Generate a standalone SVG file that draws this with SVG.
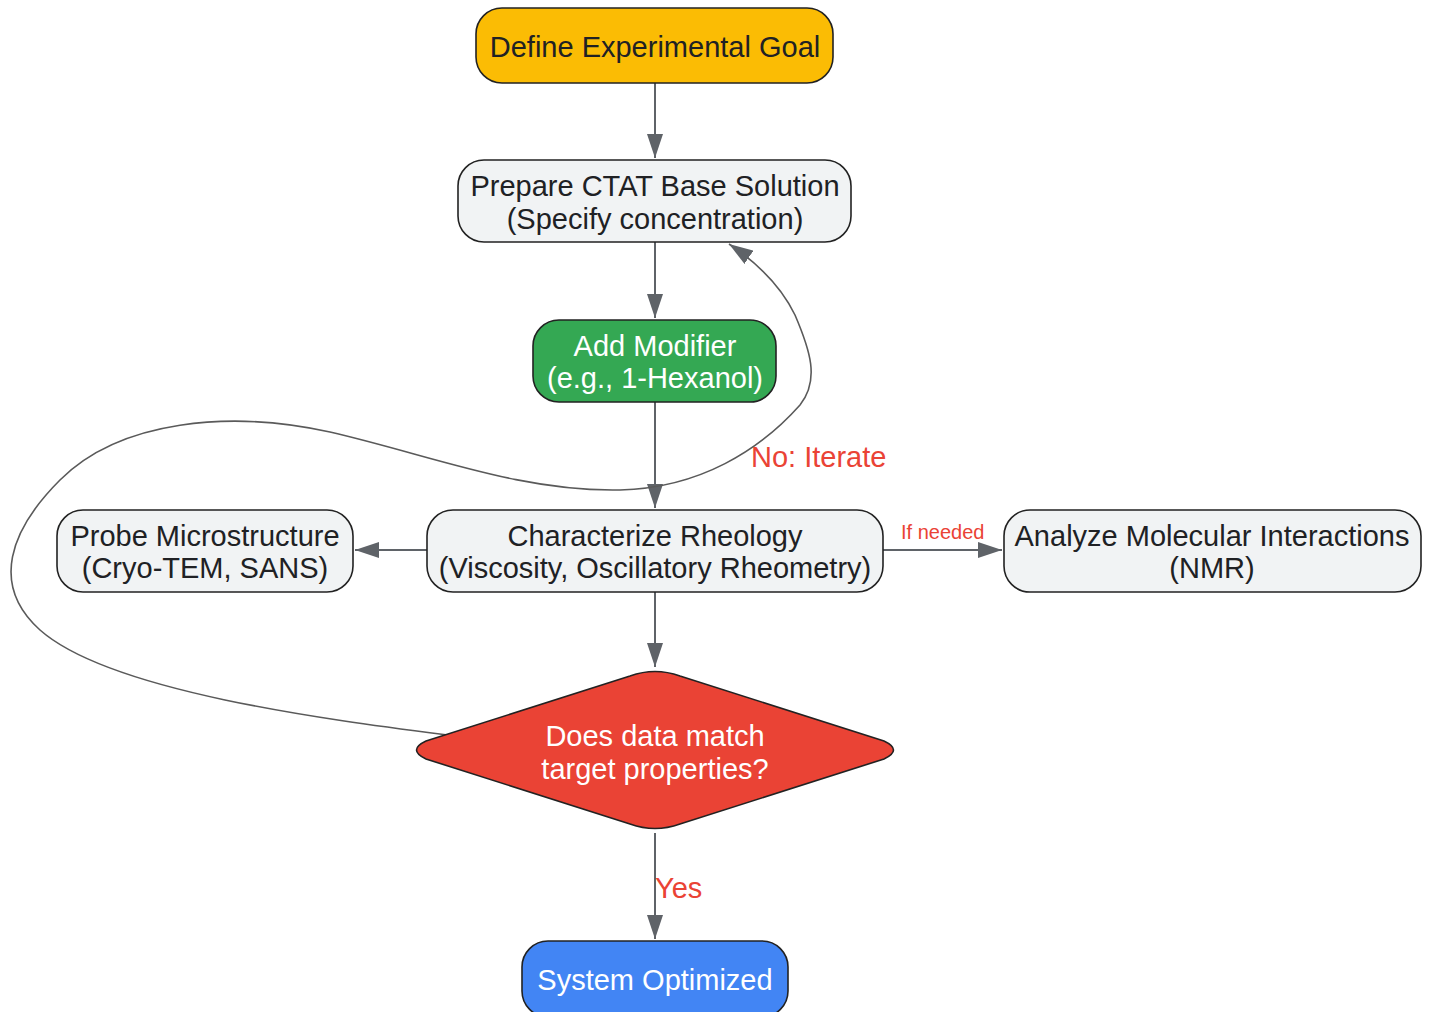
<svg xmlns="http://www.w3.org/2000/svg" width="1431" height="1012" viewBox="0 0 1431 1012">
<style>
.node{stroke:#222;stroke-width:1.6}
.lt{fill:#F1F3F4}
.t{font-family:"Liberation Sans",Arial,sans-serif;font-size:29px;text-anchor:middle;fill:#202124}
.w{fill:#fff}
.edge{fill:none;stroke:#5F6368;stroke-width:2}
.loop{fill:none;stroke:#5a5a5a;stroke-width:1.6}
.lbl{font-family:"Liberation Sans",Arial,sans-serif;fill:#EA4335}
</style>
<defs>
<marker id="ah" markerUnits="userSpaceOnUse" markerWidth="24" markerHeight="16" refX="24" refY="8" orient="auto">
<path d="M0,0 L24,8 L0,16 z" fill="#5F6368"/>
</marker>
</defs>
<rect width="1431" height="1012" fill="#fff"/>
<g id="connectors">
<line class="edge" x1="655" y1="83" x2="655" y2="158" marker-end="url(#ah)"/>
<line class="edge" x1="655" y1="242" x2="655" y2="318" marker-end="url(#ah)"/>
<line class="edge" x1="655" y1="402" x2="655" y2="508" marker-end="url(#ah)"/>
<line class="edge" x1="427" y1="550" x2="355" y2="550" marker-end="url(#ah)"/>
<line class="edge" x1="883" y1="550" x2="1002" y2="550" marker-end="url(#ah)"/>
<line class="edge" x1="655" y1="592" x2="655" y2="667" marker-end="url(#ah)"/>
<line class="edge" x1="655" y1="833" x2="655" y2="939" marker-end="url(#ah)"/>
<path class="loop" d="M447,735 C330,720 110,692 40,630 C-10,585 10,530 60,480 C120,420 230,410 330,432 C430,455 520,492 620,490 C700,488 760,450 800,405 C820,380 810,350 795,315 C782,288 762,266 729,244" marker-end="url(#ah)"/>
<text class="lbl" x="751" y="467" font-size="29">No: Iterate</text>
<text class="lbl" x="901" y="539" font-size="20">If needed</text>
<text class="lbl" x="655" y="898" font-size="29">Yes</text>
</g>
<g id="define">
<rect class="node" x="476" y="8" width="357" height="75" rx="26" fill="#FBBC04"/>
<text class="t" x="655" y="57">Define Experimental Goal</text>
</g>
<g id="prepare">
<rect class="node lt" x="458" y="160" width="393" height="82" rx="26"/>
<text class="t" x="655" y="196">Prepare CTAT Base Solution</text>
<text class="t" x="655" y="229">(Specify concentration)</text>
</g>
<g id="modifier">
<rect class="node" x="533" y="320" width="243" height="82" rx="26" fill="#34A853"/>
<text class="t w" x="655" y="356">Add Modifier</text>
<text class="t w" x="655" y="388">(e.g., 1-Hexanol)</text>
</g>
<g id="rheology">
<rect class="node lt" x="427" y="510" width="456" height="82" rx="26"/>
<text class="t" x="655" y="546">Characterize Rheology</text>
<text class="t" x="655" y="578">(Viscosity, Oscillatory Rheometry)</text>
</g>
<g id="probe">
<rect class="node lt" x="57" y="510" width="296" height="82" rx="26"/>
<text class="t" x="205" y="546">Probe Microstructure</text>
<text class="t" x="205" y="578">(Cryo-TEM, SANS)</text>
</g>
<g id="analyze">
<rect class="node lt" x="1004" y="510" width="417" height="82" rx="26"/>
<text class="t" x="1212" y="546">Analyze Molecular Interactions</text>
<text class="t" x="1212" y="578">(NMR)</text>
</g>
<g id="decision">
<path class="node" fill="#EA4335" d="M426,741 L630,676 Q655,667 680,676 L884,741 Q903,750 884,759 L680,824 Q655,833 630,824 L426,759 Q407,750 426,741 Z"/>
<text class="t w" x="655" y="746">Does data match</text>
<text class="t w" x="655" y="779">target properties?</text>
</g>
<g id="optimized">
<rect class="node" x="522" y="941" width="266" height="76" rx="26" fill="#4285F4"/>
<text class="t w" x="655" y="990">System Optimized</text>
</g>
</svg>
